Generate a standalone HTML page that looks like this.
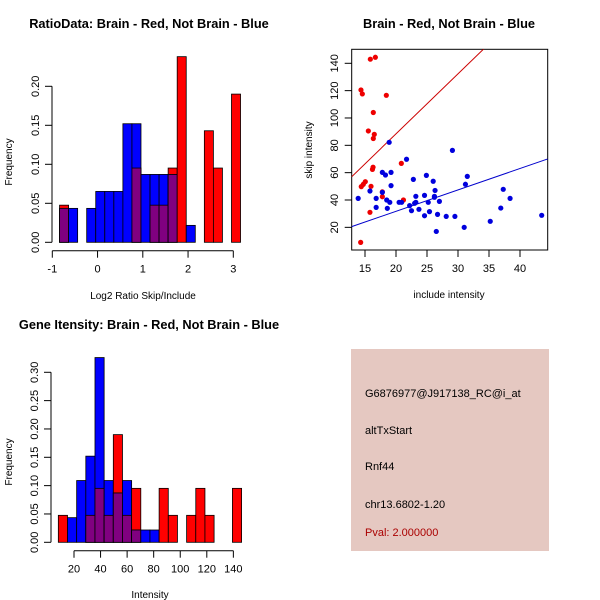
<!DOCTYPE html>
<html><head><meta charset="utf-8"><style>
body{margin:0;background:#fff}
svg{display:block;font-family:"Liberation Sans",sans-serif}
text{fill:#000}
</style></head><body>
<svg id="c" width="600" height="600" viewBox="0 0 600 600">
<rect width="600" height="600" fill="#fff"/>
</svg>
<script>
// ---- Panel 1: ratio histogram ----
const ratioStart=-0.84, ratioWidth=0.2;
const ratioRed=[0.0476,0,0,0,0,0,0,0,0.0952,0,0.0476,0.0476,0.0952,0.238,0,0,0.143,0.0952,0,0.190];
const ratioBlue=[0.0435,0.0435,0,0.0435,0.0652,0.0652,0.0652,0.152,0.152,0.087,0.087,0.087,0.087,0,0.0217,0,0,0,0,0];
const ratioXTicks=[-1,0,1,2,3];
const ratioYTicks=["0.00","0.05","0.10","0.15","0.20"];
// ---- Panel 2: scatter ----
const redX=[14.3,15.86,16.67,14.35,14.57,18.44,16.34,15.54,16.5,16.34,16.3,16.2,20.86,15.05,14.73,14.4,15.97,17.8,17.8,21.2,15.8];
const redY=[9,143,144.4,120.5,117.6,116.6,104,90.5,88,85,64,62.4,66.8,53.4,51.5,49.8,50,46,42.4,40,31];
const blueX=[13.9,15.8,16.8,16.8,17.8,17.8,18.3,18.5,18.6,19,19.2,19.2,18.9,20.5,20.9,21.7,22.2,22.5,22.8,23.0,23.2,23.2,23.7,24.6,24.6,24.9,25.2,25.4,26,26.2,26.2,26.3,26.5,26.7,27,28.1,29.1,29.5,31,31.2,31.5,35.2,36.9,37.3,38.4,43.5];
const blueY=[41.2,46.6,41.2,34.6,60.2,45.6,58.3,40,33.9,38.3,60.2,50.5,82.2,38.3,38.3,69.8,35.9,32.2,55.1,37.6,38.3,42.7,33.2,43.4,28.5,58,38.3,31.5,53.7,42.7,42,47,17,29.5,39,28,76.3,28,20,51.5,57.3,24.4,34.1,47.8,41.2,28.8];
const redLine=[0.6,4.39];   // intercept, slope
const blueLine=[0.4,1.566];
const scatXTicks=[15,20,25,30,35,40];
const scatYTicks=[20,40,60,80,100,120,140];
// ---- Panel 3: intensity histogram ----
const intStart=8.2, intWidth=6.9;
const intRed=[0.0476,0,0,0.0476,0.0952,0.0476,0.190,0.0476,0.0952,0,0,0.0952,0.0476,0,0.0476,0.0952,0.0476,0,0,0.0952];
const intBlue=[0,0.0435,0.109,0.152,0.326,0.109,0.087,0.109,0.0217,0.0217,0.0217,0,0,0,0,0,0,0,0,0];
const intXTicks=[20,40,60,80,100,120,140];
const intYTicks=["0.00","0.05","0.10","0.15","0.20","0.25","0.30"];

const svg=document.getElementById('c');
const NS='http://www.w3.org/2000/svg';
function el(tag,attrs,txt){const e=document.createElementNS(NS,tag);for(const k in attrs)e.setAttribute(k,attrs[k]);if(txt!==undefined)e.textContent=txt;svg.appendChild(e);return e;}

function hist(name,start,width,red,blue,sx,sy){
  for(let i=0;i<red.length;i++){
    const x0=sx(start+i*width),x1=sx(start+(i+1)*width);
    const r=red[i],b=blue[i],m=Math.min(r,b);
    if(r>0){const e=el('rect',{x:x0,y:sy(r),width:x1-x0,height:sy(0)-sy(r),fill:'#ff0000',stroke:'#000','stroke-width':0.8});
      
      }
    if(b>0){const e=el('rect',{x:x0,y:sy(b),width:x1-x0,height:sy(0)-sy(b),fill:'#0000ff',stroke:'#000','stroke-width':0.8});
      
      }
    if(m>0){const e=el('rect',{x:x0,y:sy(m),width:x1-x0,height:sy(0)-sy(m),fill:'#800080',stroke:'#000','stroke-width':0.8});
      
      }
  }
}
function xAxis(name,ticks,sx,y){
  const l=el('line',{x1:sx(ticks[0]),x2:sx(ticks[ticks.length-1]),y1:y,y2:y,stroke:'#000'});
  
  
  ticks.forEach(t=>{el('line',{x1:sx(t),x2:sx(t),y1:y,y2:y+7,stroke:'#000'});
    const e=el('text',{x:sx(t),y:y+22,'font-size':11,'text-anchor':'middle'},String(t));
    
    });
}
function yAxis(name,labels,vals,sy,x){
  const l=el('line',{x1:x,x2:x,y1:sy(vals[0]),y2:sy(vals[vals.length-1]),stroke:'#000'});
  
  
  vals.forEach((v,i)=>{el('line',{x1:x-7,x2:x,y1:sy(v),y2:sy(v),stroke:'#000'});
    const e=el('text',{x:x-13,y:sy(v),'font-size':11,'text-anchor':'middle',transform:`rotate(-90 ${x-13} ${sy(v)})`},labels[i]);
    
    });
}
function label(name,x,y,txt,opts){const a=Object.assign({x:x,y:y,'font-size':11,'text-anchor':'middle'},opts||{});const e=el('text',a,txt);
  
  return e;}

// Panel 1
{const sx=v=>52.3+(v+1)*45.25, sy=v=>242.3-v*780;
 hist('ratio-hist',ratioStart,ratioWidth,ratioRed,ratioBlue,sx,sy);
 xAxis('ratio',ratioXTicks,sx,250.7);
 yAxis('ratio',ratioYTicks,ratioYTicks.map(Number),sy,52);
 label('ratio-title',149,28,'RatioData: Brain - Red, Not Brain - Blue',{'font-size':12.8,'font-weight':'bold'});
 label('ratio-x-title',143,299,'Log2 Ratio Skip/Include',{'font-size':10});
 label('ratio-y-title',12,162,'Frequency',{'font-size':10,transform:'rotate(-90 12 162)'});
}
// Panel 2
{const sx=v=>365+(v-15)*6.2, sy=v=>63.3-(v-140)*1.367;
 const b=el('rect',{x:351.7,y:49.3,width:196,height:200.7,fill:'none',stroke:'#000'});
 
 
 const cp=el('clipPath',{id:'sc'});
 const cr=document.createElementNS(NS,'rect');cr.setAttribute('x',351.7);cr.setAttribute('y',49.3);cr.setAttribute('width',196);cr.setAttribute('height',200.7);cp.appendChild(cr);
 const xl=12.85,xr=44.47;
 [[redLine,'#cc0000','red-fit-line'],[blueLine,'#0000cc','blue-fit-line']].forEach(([ln,c,n])=>{
   const e=el('line',{x1:sx(xl),y1:sy(ln[0]+ln[1]*xl),x2:sx(xr),y2:sy(ln[0]+ln[1]*xr),stroke:c,'clip-path':'url(#sc)'});
   
   });
 redX.forEach((x,i)=>{const e=el('circle',{cx:sx(x),cy:sy(redY[i]),r:2.6,fill:'#ee0000'});
   
   });
 blueX.forEach((x,i)=>{const e=el('circle',{cx:sx(x),cy:sy(blueY[i]),r:2.6,fill:'#0000dd'});
   
   });
 scatXTicks.forEach(t=>{el('line',{x1:sx(t),x2:sx(t),y1:250,y2:257,stroke:'#000'});
   const e=el('text',{x:sx(t),y:272,'font-size':11,'text-anchor':'middle'},String(t));
   
   });
 scatYTicks.forEach(t=>{el('line',{x1:344.7,x2:351.7,y1:sy(t),y2:sy(t),stroke:'#000'});
   const e=el('text',{x:338,y:sy(t),'font-size':11,'text-anchor':'middle',transform:`rotate(-90 338 ${sy(t)})`},String(t));
   
   });
 label('scatter-title',449,28,'Brain - Red, Not Brain - Blue',{'font-size':12.8,'font-weight':'bold'});
 label('scatter-x-title',449,298,'include intensity',{'font-size':10});
 label('scatter-y-title',312,150,'skip intensity',{'font-size':10,transform:'rotate(-90 312 150)'});
}
// Panel 3
{const sx=v=>74+(v-20)*1.328, sy=v=>542.3-v*566.7;
 hist('intensity-hist',intStart,intWidth,intRed,intBlue,sx,sy);
 xAxis('intensity',intXTicks,sx,550.7);
 yAxis('intensity',intYTicks,intYTicks.map(Number),sy,51);
 label('intensity-title',149,329,'Gene Itensity: Brain - Red, Not Brain - Blue',{'font-size':12.8,'font-weight':'bold'});
 label('intensity-x-title',150,598,'Intensity',{'font-size':10});
 label('intensity-y-title',12,462,'Frequency',{'font-size':10,transform:'rotate(-90 12 462)'});
}
// Panel 4 info box
{const r=el('rect',{x:351,y:349,width:198,height:202,fill:'#e5c8c1'});
 
 
 label('probe-id',365,397,'G6876977@J917138_RC@i_at',{'text-anchor':'start'});
 label('event-type',365,434,'altTxStart',{'text-anchor':'start'});
 label('gene-name',365,470,'Rnf44',{'text-anchor':'start'});
 label('chrom-location',365,508,'chr13.6802-1.20',{'text-anchor':'start'});
 label('pval',365,536,'Pval: 2.000000',{'text-anchor':'start',fill:'#aa0000',style:'fill:#aa0000'});
}
</script>
</body></html>
